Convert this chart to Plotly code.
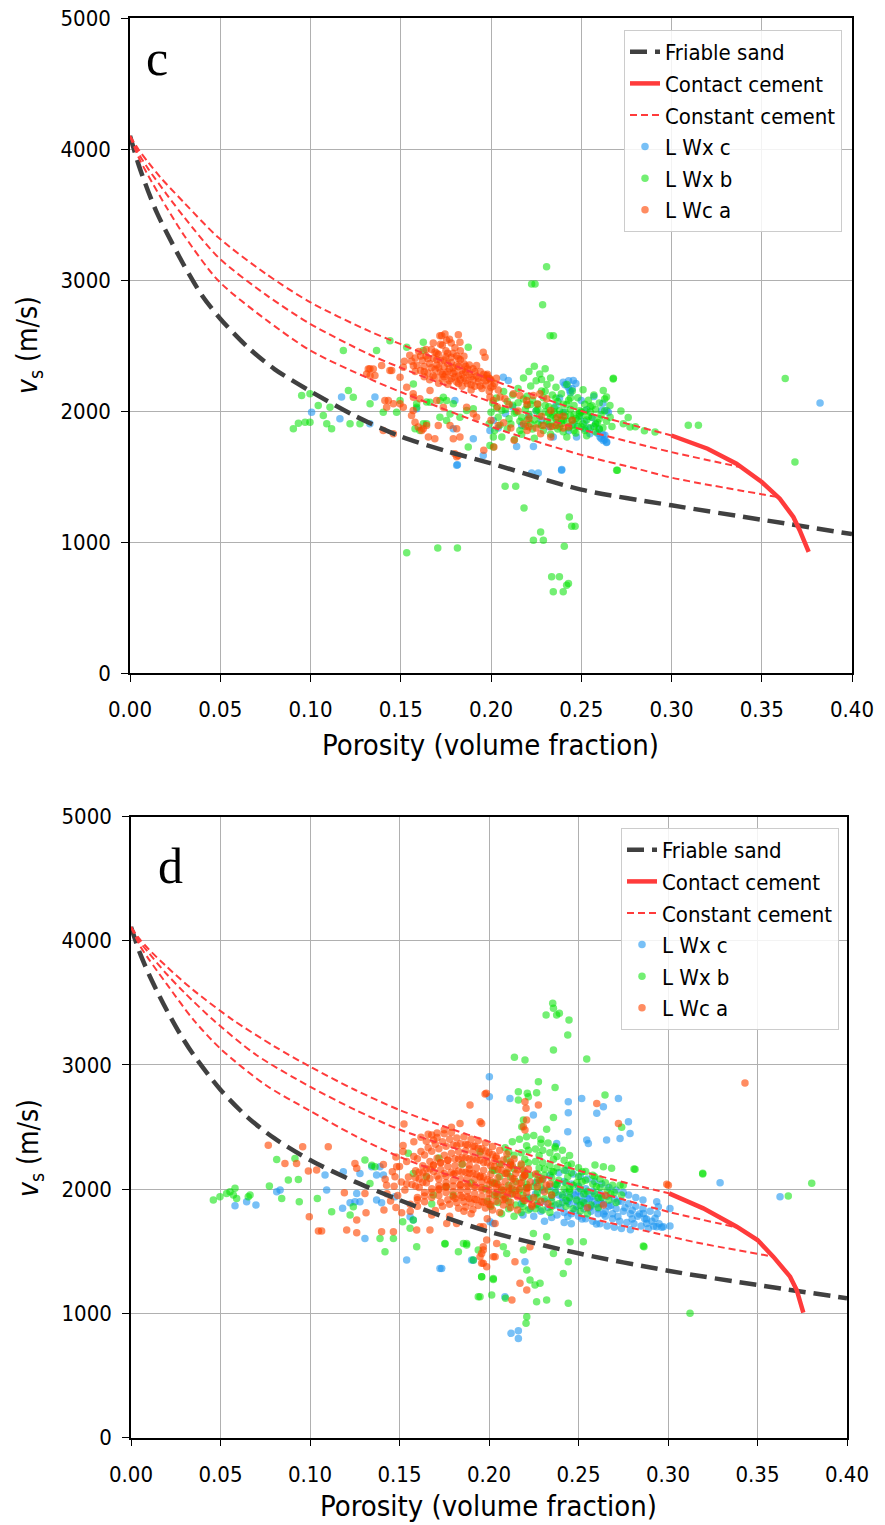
import plotly.graph_objects as go

# ------------------------------------------------------------------ panel c : model curves
c_fri_x = [0, 0.005, 0.01, 0.015, 0.02, 0.03, 0.04, 0.05, 0.065, 0.08, 0.1, 0.125, 0.15, 0.175, 0.2, 0.25, 0.3, 0.35, 0.4]
c_fri_v = [4100, 3870, 3680, 3510, 3370, 3110, 2880, 2705, 2490, 2320, 2150, 1960, 1805, 1695, 1600, 1400, 1280, 1170, 1060]
c_con_x = [0.30, 0.31, 0.32, 0.336, 0.35, 0.36, 0.3675, 0.371, 0.376]
c_con_v = [1813, 1765, 1712, 1598, 1458, 1331, 1191, 1090, 924]
c_cc1_x = [0, 0.005, 0.01, 0.017, 0.03, 0.049, 0.075, 0.1, 0.132, 0.15, 0.2, 0.25, 0.2825, 0.30]
c_cc1_v = [4100, 3990, 3900, 3781, 3590, 3324, 3050, 2829, 2613, 2510, 2240, 2000, 1877, 1813]
c_cc2_x = [0, 0.005, 0.01, 0.02, 0.03, 0.049, 0.075, 0.1, 0.132, 0.15, 0.2, 0.25, 0.2825, 0.30, 0.338]
c_cc2_v = [4100, 3960, 3850, 3660, 3480, 3172, 2890, 2664, 2436, 2330, 2070, 1860, 1745, 1686, 1572]
c_cc3_x = [0, 0.005, 0.01, 0.02, 0.03, 0.049, 0.075, 0.1, 0.132, 0.15, 0.2, 0.25, 0.2825, 0.30, 0.359]
c_cc3_v = [4100, 3930, 3800, 3560, 3340, 2994, 2700, 2461, 2250, 2145, 1880, 1665, 1554, 1491, 1343]

# ------------------------------------------------------------------ panel d : model curves
d_fri_x = [0, 0.005, 0.01, 0.015, 0.02, 0.0274, 0.035, 0.05, 0.065, 0.08, 0.1, 0.125, 0.15, 0.175, 0.2, 0.25, 0.3, 0.35, 0.4]
d_fri_v = [4110, 3900, 3730, 3580, 3440, 3250, 3080, 2800, 2580, 2410, 2234, 2060, 1912, 1775, 1657, 1483, 1343, 1228, 1121]
d_con_x = [0.3006, 0.3197, 0.3384, 0.35, 0.3588, 0.3682, 0.3719, 0.3756]
d_con_v = [1966, 1845, 1697, 1590, 1456, 1295, 1188, 1005]
d_cc1_x = [0, 0.005, 0.01, 0.02, 0.035, 0.057, 0.08, 0.1, 0.125, 0.15, 0.1726, 0.2, 0.25, 0.3006]
d_cc1_v = [4110, 4010, 3930, 3790, 3600, 3361, 3150, 2986, 2800, 2637, 2516, 2382, 2150, 1966]
d_cc2_x = [0, 0.005, 0.01, 0.02, 0.03, 0.046, 0.07, 0.1, 0.125, 0.15, 0.2, 0.25, 0.30, 0.339]
d_cc2_v = [4110, 3990, 3900, 3730, 3580, 3361, 3080, 2825, 2640, 2480, 2240, 2020, 1818, 1690]
d_cc3_x = [0, 0.005, 0.01, 0.02, 0.035, 0.05, 0.075, 0.1, 0.125, 0.15, 0.2, 0.25, 0.30, 0.318, 0.359]
d_cc3_v = [4110, 3960, 3850, 3650, 3361, 3130, 2840, 2630, 2430, 2260, 2000, 1790, 1622, 1564, 1456]

# ------------------------------------------------------------------ panel c : well data (porosity, Vs)
c_wxc = [(0.1814,1590),(0.2392,1554),(0.2225,1526),(0.2262,1526),(0.2142,1729),(0.2235,1729),(0.3823,2062),
         (0.1006,1991),(0.1163,1941),(0.1172,2106),(0.1329,1902),(0.1357,2106),(0.1588,2017),(0.1791,1864),
         (0.1800,2080),(0.1902,1788),(0.1810,1585),(0.1957,1661),(0.2013,1928),(0.1994,1852),(0.2068,2258),
         (0.2096,2233),(0.2391,1547),(0.2400,2220),(0.2437,2156),(0.2456,2233),(0.2428,2182),(0.2521,1864),
         (0.2548,1826),(0.2604,1801),(0.2622,1775),(0.2641,1763),(0.2631,1814),(0.2613,2004),(0.2641,2004),
         (0.2474,1801),(0.2345,1801),
         (0.241,2200),(0.243,2230),(0.245,2170),(0.247,2210),(0.244,2140),(0.238,2100),(0.250,2080),(0.253,2010),
         (0.256,1950),(0.258,1900),(0.260,1860),(0.262,1820),(0.263,1780),(0.264,1760),(0.261,1790),(0.259,1830),
         (0.255,1870),(0.252,1920),(0.249,1960),(0.246,1900),(0.243,1850),(0.240,1990),(0.236,2040),(0.232,1880),
         (0.228,1930),(0.225,2000),(0.221,1960),(0.217,1890),(0.212,2030),(0.208,1980),(0.204,1870),(0.265,1990),
         (0.262,2060),(0.257,2110)]

c_wxb = [(0.2308,3101),(0.2225,2969),(0.2244,2969),(0.2286,2812),(0.2327,2575),(0.2346,2575),(0.2678,2250),
         (0.3093,1892),(0.3149,1892),(0.2700,1547),(0.2078,1425),(0.2137,1425),(0.2183,1260),(0.2434,1191),
         (0.2447,1120),(0.2466,1120),(0.2235,1013),(0.2290,1013),(0.2275,1077),(0.2406,967),(0.1533,917),
         (0.1705,955),(0.1814,955),(0.2336,734),(0.2379,734),(0.2345,620),(0.2400,620),(0.2419,670),(0.2429,683),
         (0.3684,1610),(0.2909,1839),(0.3630,2248),
         (0.0905,1864),(0.0933,1907),(0.0970,1915),(0.0997,1915),(0.0951,2118),(0.0997,2131),(0.1043,2042),
         (0.1071,1966),(0.1108,2029),(0.1117,1864),(0.1090,1902),(0.1210,2156),(0.1237,2105),(0.1182,2461),
         (0.1219,1902),(0.1274,1902),(0.1330,2055),(0.1366,2461),(0.1440,2537),(0.1533,2487),(0.1625,2525),
         (0.1625,2461),(0.1403,1991),(0.1477,1991),(0.1496,2080),(0.1570,2207),(0.1588,2029),(0.1625,1902),
         (0.1662,2067),(0.1736,2105),(0.1773,1978),(0.1791,2055),(0.1588,2055),(0.1643,2068),(0.1717,2080),
         (0.1754,2080),(0.1579,1864),(0.1606,1852),(0.1643,1902),(0.1717,1953),(0.1754,1928),(0.1828,1953),
         (0.1865,2004),(0.1902,2017),(0.1874,1725),(0.1874,2487),(0.2013,1801),(0.1994,1737),(0.2013,1725),
         (0.2677,2245),(0.2622,2156),(0.2640,2106),(0.2659,2042),(0.2733,1902),(0.2770,1877),(0.2696,1547),
         (0.2800,1880),(0.2850,1850),(0.2760,1950),(0.2720,2000),
         (0.200,1990),(0.201,2062),(0.199,1902),(0.203,2100),(0.204,1952),(0.202,1851),(0.203,2022),
         (0.206,2003),(0.207,2148),(0.205,1893),(0.206,1802),(0.209,2072),(0.210,1941),(0.208,2012),(0.209,1862),
         (0.212,2122),(0.213,1983),(0.211,1901),(0.212,2043),(0.213,1782),(0.215,2063),(0.216,1921),(0.214,1992),
         (0.215,2172),(0.216,1851),(0.218,2252),(0.219,2011),(0.217,1953),(0.218,2092),(0.219,1882),(0.217,1822),
         (0.221,2302),(0.222,2191),(0.220,2042),(0.221,1973),(0.222,1902),(0.220,2112),(0.224,2342),(0.225,2231),
         (0.223,2082),(0.224,1932),(0.225,2003),(0.223,1862),(0.224,1792),(0.227,2282),(0.228,2152),(0.226,2052),
         (0.227,1962),(0.228,1892),(0.226,2012),(0.230,2322),(0.231,2202),(0.229,2102),(0.230,1992),(0.231,1922),
         (0.229,1852),(0.230,2042),(0.233,2252),(0.234,2122),(0.232,2032),(0.233,1952),(0.234,1882),(0.232,1982),
         (0.233,1822),(0.236,2182),(0.237,2072),(0.235,1992),(0.236,1912),(0.237,1862),(0.235,2022),(0.236,1942),
         (0.239,2132),(0.240,2052),(0.238,1972),(0.239,1902),(0.240,1842),(0.238,2002),(0.239,1932),(0.242,2202),
         (0.243,2082),(0.241,1992),(0.242,1922),(0.243,1872),(0.241,1962),(0.242,1802),(0.245,2152),(0.246,2042),
         (0.244,1962),(0.245,1892),(0.246,1852),(0.244,2012),(0.245,1932),(0.248,2102),(0.249,2002),(0.247,1942),
         (0.248,1882),(0.249,1982),(0.247,1832),(0.251,2162),(0.252,2052),(0.250,1962),(0.251,1902),(0.252,1852),
         (0.250,1992),(0.254,2082),(0.255,1992),(0.253,1932),(0.254,1872),(0.255,2032),(0.253,1812),(0.257,2122),
         (0.258,2012),(0.256,1952),(0.257,1882),(0.258,1842),(0.260,2062),(0.261,1972),(0.259,1912),(0.260,1862),
         (0.263,2002),(0.264,1922),(0.262,1872),(0.263,2092),(0.266,1952),(0.267,1882),
         (0.222,2050),(0.226,1900),(0.230,2150),(0.234,1970),(0.238,1880),(0.242,2050),(0.246,1970),(0.250,1880),
         (0.254,1960),(0.258,1900),(0.228,2240),(0.236,2100),(0.244,2100),(0.252,2000),(0.260,1940),(0.232,1900),
         (0.240,1930),(0.248,1930),(0.256,2040),(0.220,1930)]

c_wca = [(0.152,2380),(0.155,2425),(0.157,2345),(0.158,2405),(0.160,2455),(0.161,2310),(0.162,2385),(0.163,2340),
         (0.164,2420),(0.165,2290),(0.166,2362),(0.167,2470),(0.168,2402),(0.169,2318),(0.169,2262),(0.170,2352),
         (0.171,2432),(0.172,2298),(0.172,2383),(0.173,2242),(0.174,2338),(0.175,2412),(0.175,2281),(0.176,2205),
         (0.177,2322),(0.178,2371),(0.178,2249),(0.179,2441),(0.180,2302),(0.181,2221),(0.181,2352),(0.182,2268),
         (0.183,2391),(0.184,2189),(0.184,2312),(0.185,2251),(0.186,2342),(0.187,2208),(0.188,2279),(0.189,2161),
         (0.190,2322),(0.190,2238),(0.191,2188),(0.192,2268),(0.193,2221),(0.194,2301),(0.195,2172),(0.196,2252),
         (0.197,2199),(0.198,2281),(0.199,2150),(0.200,2232),(0.201,2188),(0.203,2250),(0.204,2160),(0.170,2392),
         (0.174,2262),(0.176,2362),(0.179,2288),(0.183,2238),(0.186,2298),(0.163,2262),(0.158,2302),(0.171,2212),
         (0.166,2238),(0.188,2352),(0.192,2348),(0.185,2418),(0.180,2482),(0.173,2502),(0.177,2548),(0.168,2520),
         (0.182,2400),(0.176,2440),(0.164,2470),
         (0.156,2380),(0.159,2350),(0.161,2420),(0.163,2300),(0.165,2400),(0.167,2330),(0.168,2270),(0.170,2440),
         (0.171,2330),(0.173,2280),(0.174,2390),(0.176,2300),(0.177,2230),(0.178,2410),(0.179,2330),(0.180,2260),
         (0.182,2340),(0.182,2210),(0.184,2280),(0.185,2360),(0.186,2230),(0.187,2320),(0.189,2260),(0.189,2200),
         (0.191,2300),(0.193,2250),(0.194,2190),(0.196,2280),(0.197,2230),(0.199,2250),(0.200,2180),(0.202,2210),
         (0.169,2450),(0.175,2460),(0.181,2420),(0.172,2510),(0.178,2520),(0.183,2460),
         (0.1727,2575),(0.1745,2588),(0.1819,2583),(0.1828,2525),(0.1329,2322),(0.1357,2271),(0.1311,2283),
         (0.1394,2347),(0.1450,2309),(0.1412,2080),(0.1422,2029),(0.1431,2080),(0.1496,2055),(0.1514,2029),
         (0.1560,1966),(0.1569,2004),(0.1579,1915),(0.1597,1877),(0.1625,1864),(0.1643,1890),(0.1653,1801),
         (0.1689,1788),(0.1708,1890),(0.1773,1890),(0.1810,1864),(0.1828,1801),(0.1791,1788),(0.1800,1674),
         (0.1819,1661),(0.1403,1852),(0.1459,1826),(0.1533,2182),(0.1569,2131),(0.1606,2093),(0.1662,2156),
         (0.1699,2080),(0.1736,2029),(0.1865,2029),(0.1902,1979),(0.1920,1953),(0.1957,2448),(0.1967,2410),
         (0.1976,2271),(0.1994,2245),(0.1320,2321),(0.1348,2321),(0.1330,2270),(0.1440,2309),(0.1496,2258),
         (0.1459,2055),(0.1514,2334),(0.1570,2105),(0.1616,1851),(0.1717,2575),(0.1754,2540),
         (0.1994,2106),(0.2013,2080),(0.2050,2106),(0.2077,2093),(0.2124,2131),(0.2160,2118),(0.2197,2080),
         (0.2234,2118),(0.2271,2131),(0.2308,2093),(0.2000,1930),(0.2040,1890),(0.2070,1910),(0.2110,1870),
         (0.2180,1900),(0.2210,1880),(0.2250,1870),(0.2290,1890),(0.2330,1880),(0.2360,1890),(0.2400,1870),
         (0.2430,1880),(0.2210,1940),(0.2035,2030),(0.2200,2050),(0.2257,2054),(0.2331,2004),(0.2368,1953),
         (0.2200,1852),(0.2275,1826),(0.2331,1801),(0.2128,1776),(0.2016,1725),(0.1960,1700),(0.1810,1650),
         (0.2150,2000),(0.2100,2050),(0.2280,1960),(0.2400,1960),(0.2450,1930)]

# ------------------------------------------------------------------ panel d : well data (porosity, Vs)
d_wxc = [(0.2002,2905),(0.2002,2744),(0.2117,2730),(0.2443,2703),(0.2443,2615),(0.2518,2730),(0.2602,2610),
         (0.2639,2663),(0.2723,2730),(0.2248,2596),(0.2440,2462),(0.2546,2395),(0.2555,2368),(0.2657,2395),
         (0.2732,2408),(0.2779,2542),(0.2788,2448),(0.2378,2368),(0.2937,1898),(0.2946,1858),(0.3011,1844),
         (0.2937,1697),(0.2974,1697),(0.2862,1804),(0.2881,1724),(0.1913,1428),(0.2201,1415),(0.2089,1133),
         (0.1736,1361),(0.2928,1765),(0.3011,1703),(0.2965,1692),(0.3291,2052),(0.3626,1939),(0.2123,839),
         (0.2164,860),(0.2164,798),(0.0581,1866),(0.0646,1898),(0.0698,1871),(0.0814,1979),(0.0833,1992),
         (0.1093,1992),(0.1084,2113),(0.1186,2140),(0.1261,1965),(0.1279,2126),(0.1345,2180),(0.1372,2113),
         (0.1391,2180),(0.1410,2113),(0.1224,1890),(0.1251,1898),(0.1182,1845),(0.1279,1898),(0.1307,1603),
         (0.1372,1912),(0.1400,1890),(0.1475,1938),(0.1540,1429),(0.1559,1777),(0.1577,1751),(0.1726,1361),
         (0.1903,1429),(0.2006,1737),(0.2024,1724),
         (0.218,1882),(0.219,1792),(0.222,1932),(0.223,1842),(0.221,2012),(0.226,1962),(0.227,1872),(0.225,1782),
         (0.226,2052),(0.230,1992),(0.231,1902),(0.229,1822),(0.230,2082),(0.231,1742),(0.234,2022),(0.235,1932),
         (0.233,1852),(0.234,2112),(0.235,1772),(0.238,2042),(0.239,1952),(0.237,1872),(0.238,1792),(0.239,2132),
         (0.237,1992),(0.242,2062),(0.243,1972),(0.241,1892),(0.242,1812),(0.243,2152),(0.241,1932),(0.242,1732),
         (0.246,2042),(0.247,1962),(0.245,1882),(0.246,1802),(0.247,2122),(0.245,1922),(0.246,1722),(0.250,2022),
         (0.251,1942),(0.249,1862),(0.250,1782),(0.251,2102),(0.249,1902),(0.250,1982),(0.254,2002),(0.255,1922),
         (0.253,1842),(0.254,1762),(0.255,2082),(0.253,1882),(0.254,1962),(0.258,1982),(0.259,1902),(0.257,1822),
         (0.258,1742),(0.259,2062),(0.257,1862),(0.258,1942),(0.262,1962),(0.263,1882),(0.261,1802),(0.262,1722),
         (0.263,2042),(0.261,1842),(0.262,1922),(0.266,1942),(0.267,1862),(0.265,1782),(0.266,1702),(0.267,2012),
         (0.265,1822),(0.270,1922),(0.271,1842),(0.269,1762),(0.270,1692),(0.271,1992),(0.269,1802),(0.274,1902),
         (0.275,1822),(0.273,1742),(0.274,1682),(0.275,1972),(0.278,1882),(0.279,1802),(0.277,1732),(0.278,1952),
         (0.279,1672),(0.282,1862),(0.283,1782),(0.281,1722),(0.282,1932),(0.286,1842),(0.287,1762),(0.285,1702),
         (0.286,1912),(0.290,1822),(0.291,1742),(0.289,1682),(0.294,1802),(0.295,1722),
         (0.240,1850),(0.244,1900),(0.248,1830),(0.252,1900),(0.256,1850),(0.260,1880),(0.264,1800),(0.268,1870),
         (0.272,1780),(0.276,1850),(0.280,1760),(0.284,1800),(0.248,1950),(0.256,1920),(0.264,1880),(0.272,1900),
         (0.280,1830),(0.288,1760),(0.292,1700),(0.244,1780),(0.252,1760),(0.260,1720)]

d_wxb = [(0.2356,3496),(0.2360,3456),(0.2319,3402),(0.2378,3402),(0.2393,3416),(0.2447,3362),(0.2440,3241),
         (0.2360,3120),(0.2142,3061),(0.2201,3040),(0.2546,3048),(0.3123,1000),(0.3194,2127),(0.2276,2864),
         (0.2369,2819),(0.2164,2784),(0.2214,2771),(0.2266,2776),(0.2164,2717),(0.2220,2744),(0.2648,2757),
         (0.2192,2556),(0.2183,2502),(0.2322,2481),(0.2360,2577),(0.2741,2497),(0.2816,2159),(0.2592,2194),
         (0.2639,2180),(0.2685,2167),(0.2732,2032),(0.2866,1536),(0.1857,1563),(0.1875,1549),(0.1754,1557),
         (0.1959,1294),(0.2024,1273),(0.2080,1536),(0.2099,1482),(0.2211,1348),(0.2229,1268),(0.2257,1227),
         (0.2192,1509),(0.2248,1643),(0.2322,1616),(0.2360,1482),(0.2415,1321),(0.2443,1415),(0.2453,1576),
         (0.2527,1576),(0.2211,973),(0.2207,920),(0.1950,1134),(0.2092,1121),(0.2266,1094),(0.2322,1107),
         (0.2443,1081),(0.2285,1241),(0.2810,2162),(0.3194,2122),(0.3803,2047),(0.3672,1945),(0.2862,1542),
         (0.0460,1912),(0.0497,1938),(0.0534,1965),(0.0553,1979),(0.0581,2006),(0.0572,1952),(0.0590,1925),
         (0.0655,1938),(0.0665,1952),(0.0773,2024),(0.0814,2239),(0.0842,1925),(0.0879,2073),(0.0916,2247),
         (0.0935,2078),(0.0940,1898),(0.1041,1925),(0.1121,1818),(0.1224,1791),(0.1242,1858),(0.1307,2234),
         (0.1345,2193),(0.1363,2180),(0.1335,2046),(0.1391,1603),(0.1419,1496),(0.1466,1603),(0.1518,1737),
         (0.1559,1684),(0.1596,1536),(0.1577,1751),(0.1549,2288),(0.1577,2126),(0.1689,1952),(0.1754,1563),
         (0.1829,1496),(0.1875,1563),(0.1912,1429),(0.1940,1509),(0.1959,1294),(0.1940,1133),(0.2015,1147),
         (0.2024,1281),(0.165,2100),(0.172,2250),(0.180,1950),(0.185,2200),(0.190,2050),(0.195,2300),(0.176,2020),
         (0.168,1880),
         (0.198,2002),(0.199,1902),(0.202,2052),(0.203,1952),(0.201,1862),(0.202,2152),(0.206,2102),(0.207,1992),
         (0.205,1892),(0.206,2202),(0.207,1802),(0.210,2132),(0.211,2032),(0.209,1932),(0.210,2242),(0.211,1842),
         (0.209,2332),(0.214,2162),(0.215,2062),(0.213,1962),(0.214,2272),(0.215,1872),(0.213,2382),(0.214,1782),
         (0.218,2192),(0.219,2092),(0.217,1992),(0.218,2292),(0.219,1902),(0.217,2402),(0.218,1812),(0.222,2212),
         (0.223,2112),(0.221,2012),(0.222,2312),(0.223,1922),(0.221,2422),(0.222,1832),(0.226,2222),(0.227,2122),
         (0.225,2022),(0.226,2322),(0.227,1932),(0.225,2432),(0.226,1842),(0.227,2072),(0.230,2212),(0.231,2112),
         (0.229,2012),(0.230,2312),(0.231,1922),(0.229,2402),(0.230,1832),(0.231,2162),(0.234,2192),(0.235,2092),
         (0.233,1992),(0.234,2292),(0.235,1902),(0.233,2372),(0.234,1812),(0.235,2142),(0.238,2172),(0.239,2072),
         (0.237,1972),(0.238,2262),(0.239,1882),(0.237,2342),(0.238,2032),(0.242,2152),(0.243,2052),(0.241,1952),
         (0.242,2232),(0.243,1862),(0.241,2312),(0.242,2002),(0.246,2132),(0.247,2032),(0.245,1932),(0.246,2202),
         (0.247,1842),(0.245,1982),(0.250,2102),(0.251,2002),(0.249,1912),(0.250,2172),(0.251,1822),(0.249,2052),
         (0.254,2072),(0.255,1982),(0.253,1892),(0.254,2142),(0.255,1802),(0.258,2042),(0.259,1962),(0.257,1872),
         (0.258,2112),(0.262,2012),(0.263,1932),(0.261,1852),(0.262,2082),(0.266,1992),(0.267,1912),(0.265,2052),
         (0.270,1972),(0.271,1892),(0.274,1952),(0.275,2032),
         (0.204,2050),(0.205,1950),(0.203,2150),(0.212,2100),(0.213,2000),(0.211,1900),(0.212,2200),(0.211,2300),
         (0.220,2140),(0.221,2040),(0.219,1950),(0.220,2240),(0.221,2350),(0.219,1860),(0.228,2170),(0.229,2070),
         (0.227,1970),(0.228,2270),(0.229,2370),(0.227,1880),(0.236,2140),(0.237,2040),(0.235,1950),(0.236,2240),
         (0.237,2330),(0.235,1860),(0.244,2100),(0.245,2000),(0.243,1910),(0.244,2190),(0.245,2270),(0.252,2060),
         (0.253,1960),(0.251,1870),(0.252,2140),(0.260,2020),(0.261,1930),(0.259,2100),(0.268,1960),(0.269,2030)]

d_wca = [(0.0767,2354),(0.0959,2341),(0.1102,2341),(0.0860,2207),(0.0925,2207),(0.0991,2145),(0.1037,2153),
         (0.1251,2207),(0.1261,2167),(0.1307,1965),(0.1192,1971),(0.0996,1777),(0.1047,1662),(0.1065,1662),
         (0.1205,1670),(0.1261,1751),(0.1261,1649),(0.1313,1810),(0.1400,1657),(0.1466,1657),(0.1413,1831),
         (0.1512,1810),(0.1428,2032),(0.1475,2100),(0.1484,2180),(0.1525,2524),(0.1680,2435),(0.1838,2529),
         (0.1894,2677),(0.1959,2529),(0.1978,2765),(0.1596,1670),(0.1670,1670),(0.1764,1724),(0.1819,1724),
         (0.1959,1482),(0.1968,1402),(0.1987,1375),(0.1968,1509),(0.2024,1455),(0.2034,1724),(0.1985,2771),
         (0.2201,2703),(0.2207,2650),(0.2210,2556),(0.2276,2677),(0.1950,2542),(0.2602,2690),(0.2723,2529),
         (0.3002,2032),(0.2639,1871),(0.2192,2502),(0.2201,2475),(0.1950,1697),(0.1968,1697),(0.1987,1590),
         (0.1968,1536),(0.1950,1455),(0.1959,1402),(0.2043,1563),(0.2145,1415),(0.2173,1241),(0.2211,1187),
         (0.2229,1536),(0.2034,1455),(0.2993,2039),(0.3430,2854),(0.2128,1107),(0.255,1850),(0.265,1950),
         (0.142,2080),(0.143,1962),(0.141,2198),(0.146,2140),(0.147,2022),(0.145,1904),(0.148,2258),(0.150,2182),
         (0.151,2058),(0.149,1948),(0.152,2302),(0.148,1852),(0.154,2222),(0.155,2098),(0.153,1992),(0.156,1878),
         (0.152,2352),(0.154,2042),(0.158,2262),(0.159,2148),(0.157,2038),(0.160,1932),(0.156,1822),(0.158,2382),
         (0.159,2092),(0.162,2302),(0.163,2188),(0.161,2082),(0.164,1972),(0.160,1862),(0.162,2418),(0.163,2132),
         (0.161,2012),(0.166,2332),(0.167,2222),(0.165,2108),(0.168,2002),(0.164,1898),(0.166,2442),(0.167,2162),
         (0.165,2052),(0.168,1792),(0.170,2362),(0.171,2248),(0.169,2142),(0.172,2028),(0.168,1932),(0.170,1828),
         (0.171,2452),(0.169,2192),(0.172,2082),(0.174,2382),(0.175,2272),(0.173,2158),(0.176,2052),(0.172,1948),
         (0.174,1862),(0.175,2478),(0.173,2212),(0.176,2102),(0.172,2002),(0.178,2402),(0.179,2288),(0.177,2182),
         (0.180,2068),(0.176,1972),(0.178,1878),(0.179,2498),(0.177,2232),(0.180,2118),(0.176,2022),(0.178,1782),
         (0.182,2412),(0.183,2302),(0.181,2188),(0.184,2082),(0.180,1978),(0.182,1892),(0.183,2242),(0.181,2128),
         (0.184,2032),(0.180,1938),(0.182,2352),(0.186,2422),(0.187,2308),(0.185,2202),(0.188,2088),(0.184,1992),
         (0.186,1898),(0.187,2252),(0.185,2138),(0.188,2042),(0.184,1948),(0.186,1822),(0.187,2362),(0.190,2402),
         (0.191,2298),(0.189,2192),(0.192,2078),(0.188,1982),(0.190,1888),(0.191,2242),(0.189,2128),(0.192,2032),
         (0.188,1938),(0.190,1802),(0.191,2348),(0.189,2162),(0.194,2392),(0.195,2278),(0.193,2172),(0.196,2058),
         (0.192,1962),(0.194,1868),(0.195,2232),(0.193,2118),(0.196,2012),(0.192,1918),(0.194,2328),(0.195,2098),
         (0.198,2372),(0.199,2258),(0.197,2152),(0.200,2038),(0.196,1942),(0.198,1848),(0.199,2212),(0.197,2098),
         (0.200,1992),(0.196,1898),(0.198,2308),(0.199,1762),(0.202,2342),(0.203,2228),(0.201,2122),(0.204,2018),
         (0.200,1922),(0.202,1832),(0.203,2182),(0.201,2068),(0.204,1972),(0.200,1878),(0.202,2278),(0.206,2312),
         (0.207,2198),(0.205,2092),(0.208,1988),(0.204,1902),(0.206,1812),(0.207,2152),(0.205,2038),(0.208,1952),
         (0.204,2248),(0.210,2282),(0.211,2168),(0.209,2062),(0.212,1958),(0.208,1872),(0.210,2122),(0.211,2008),
         (0.209,1922),(0.212,2218),(0.214,2242),(0.215,2128),(0.213,2032),(0.216,1938),(0.212,1852),(0.214,2082),
         (0.215,1988),(0.213,2188),(0.218,2202),(0.219,2098),(0.217,2002),(0.220,1908),(0.216,1832),(0.218,2052),
         (0.219,2152),(0.222,2162),(0.223,2058),(0.221,1972),(0.224,1878),(0.220,2108),(0.222,2012),(0.226,2122),
         (0.227,2018),(0.225,1932),(0.228,2072),(0.224,1862),(0.230,2082),(0.231,1978),(0.229,1902),(0.232,2032),
         (0.234,2042),(0.235,1952),(0.233,1882),
         (0.160,2245),(0.161,2135),(0.159,2025),(0.160,1915),(0.164,2275),(0.165,2165),(0.163,2055),(0.164,1945),
         (0.165,2385),(0.168,2305),(0.169,2195),(0.167,2085),(0.168,1975),(0.169,2395),(0.172,2325),(0.173,2215),
         (0.171,2105),(0.172,1995),(0.173,1895),(0.171,2415),(0.176,2345),(0.177,2235),(0.175,2125),(0.176,2015),
         (0.177,1915),(0.175,2445),(0.180,2355),(0.181,2245),(0.179,2135),(0.180,2025),(0.181,1925),(0.179,2455),
         (0.184,2365),(0.185,2255),(0.183,2145),(0.184,2035),(0.185,1935),(0.183,1845),(0.188,2355),(0.189,2245),
         (0.187,2135),(0.188,2025),(0.189,1925),(0.187,1855),(0.192,2345),(0.193,2235),(0.191,2125),(0.192,2015),
         (0.193,1915),(0.191,1835),(0.196,2325),(0.197,2215),(0.195,2105),(0.196,1995),(0.197,1895),(0.200,2295),
         (0.201,2185),(0.199,2075),(0.200,1965),(0.201,1875),(0.204,2265),(0.205,2155),(0.203,2045),(0.204,1945),
         (0.208,2235),(0.209,2125),(0.207,2015),(0.208,1915),(0.212,2195),(0.213,2085),(0.211,1985),(0.212,1895),
         (0.216,2155),(0.217,2045),(0.215,1955),(0.220,2115),(0.221,2005),(0.219,1925)]

series_names = ["Friable sand", "Contact cement", "Constant cement", "L Wx c", "L Wx b", "L Wc a"]

# ------------------------------------------------------------------ styling
FONT = "DejaVu Sans Condensed, DejaVu Sans, sans-serif"
COL_C = "rgba(30,150,240,0.6)"
COL_B = "rgba(0,225,0,0.55)"
COL_A = "rgba(255,69,0,0.62)"
FRI_COL = "#404040"
RED = "#ff3b3b"

W, H = 885, 1525
panels = [
    dict(xd=[130 / W, 852 / W], yd=[1 - 673 / H, 1 - 18 / H], xa="x", ya="y", leg="legend",
         fri=(c_fri_x, c_fri_v), con=(c_con_x, c_con_v),
         cc=[(c_cc1_x, c_cc1_v), (c_cc2_x, c_cc2_v), (c_cc3_x, c_cc3_v)],
         pts=[c_wxc, c_wxb, c_wca]),
    dict(xd=[131 / W, 847 / W], yd=[1 - 1437.5 / H, 1 - 816.5 / H], xa="x2", ya="y2", leg="legend2",
         fri=(d_fri_x, d_fri_v), con=(d_con_x, d_con_v),
         cc=[(d_cc1_x, d_cc1_v), (d_cc2_x, d_cc2_v), (d_cc3_x, d_cc3_v)],
         pts=[d_wxc, d_wxb, d_wca]),
]

fig = go.Figure()
for p in panels:
    # scatter first so that model lines sit on top
    for k, (pts, col) in enumerate(zip(p["pts"], [COL_C, COL_B, COL_A])):
        xs = [a for a, b in pts]
        ys = [b for a, b in pts]
        fig.add_trace(go.Scatter(x=xs, y=ys, mode="markers", name=series_names[3 + k],
                                 marker=dict(size=7.5, color=col, line=dict(width=0)),
                                 xaxis=p["xa"], yaxis=p["ya"], legend=p["leg"], legendrank=4 + k))
    fig.add_trace(go.Scatter(x=p["fri"][0], y=p["fri"][1], mode="lines", name=series_names[0],
                             line=dict(color=FRI_COL, width=4.5, dash="17px,8px", shape="spline", smoothing=0.8),
                             xaxis=p["xa"], yaxis=p["ya"], legend=p["leg"], legendrank=1))
    fig.add_trace(go.Scatter(x=p["con"][0], y=p["con"][1], mode="lines", name=series_names[1],
                             line=dict(color=RED, width=4.5),
                             xaxis=p["xa"], yaxis=p["ya"], legend=p["leg"], legendrank=2))
    for j, (cx, cv) in enumerate(p["cc"]):
        fig.add_trace(go.Scatter(x=cx, y=cv, mode="lines", name=series_names[2],
                                 line=dict(color=RED, width=2, dash="7px,4px", shape="spline", smoothing=0.8),
                                 showlegend=(j == 0),
                                 xaxis=p["xa"], yaxis=p["ya"], legend=p["leg"], legendrank=3))

axis_common = dict(showgrid=True, gridcolor="#b0b0b0", gridwidth=1.4, showline=True, linecolor="black",
                   linewidth=1.5, mirror=True, ticks="outside", ticklen=7, tickwidth=1.3, tickcolor="black",
                   zeroline=False, automargin=False, tickfont=dict(family=FONT, size=22, color="black"))

layout = dict(width=W, height=H, margin=dict(l=0, r=0, t=0, b=0), paper_bgcolor="white",
              plot_bgcolor="white", template="none", font=dict(family=FONT, color="black"))
for i, p in enumerate(panels):
    sx = "" if i == 0 else "2"
    layout["xaxis" + sx] = dict(axis_common, domain=p["xd"], range=[0, 0.4], dtick=0.05, tickformat=".2f",
                                anchor="y" + sx, ticklabelstandoff=9)
    layout["yaxis" + sx] = dict(axis_common, domain=p["yd"], range=[0, 5000], dtick=1000,
                                anchor="x" + sx, ticklabelstandoff=6)

leg_common = dict(bgcolor="rgba(255,255,255,0.85)", bordercolor="#cccccc", borderwidth=1,
                  font=dict(family=FONT, size=22, color="black"), xanchor="right", yanchor="top",
                  itemwidth=30, traceorder="normal")
layout["legend"] = dict(leg_common, x=842 / W, y=1 - 30 / H)
layout["legend2"] = dict(leg_common, x=839 / W, y=1 - 828 / H)

ann = []
for (cx, cy, txt) in [(490, 745, "Porosity (volume fraction)"), (489, 1506, "Porosity (volume fraction)")]:
    ann.append(dict(x=cx / W, y=1 - cy / H, xref="paper", yref="paper", text=txt, showarrow=False,
                    font=dict(family=FONT, size=29, color="black"), xanchor="center", yanchor="middle"))
for (cx, cy) in [(30, 345), (30, 1148)]:
    ann.append(dict(x=cx / W, y=1 - cy / H, xref="paper", yref="paper", text="<i>v</i><sub>s</sub> (m/s)",
                    showarrow=False, textangle=-90, font=dict(family=FONT, size=28, color="black"),
                    xanchor="center", yanchor="middle"))
for (cx, cy, t) in [(157, 58, "c"), (170, 866, "d")]:
    ann.append(dict(x=cx / W, y=1 - cy / H, xref="paper", yref="paper", text=t, showarrow=False,
                    font=dict(family="Liberation Serif, serif", size=50, color="black"),
                    xanchor="center", yanchor="middle"))
layout["annotations"] = ann

fig.update_layout(**layout)
fig.write_html("out.html", config={"displayModeBar": False},
               post_script="document.body.style.margin='0px';document.body.style.overflow='hidden';")
